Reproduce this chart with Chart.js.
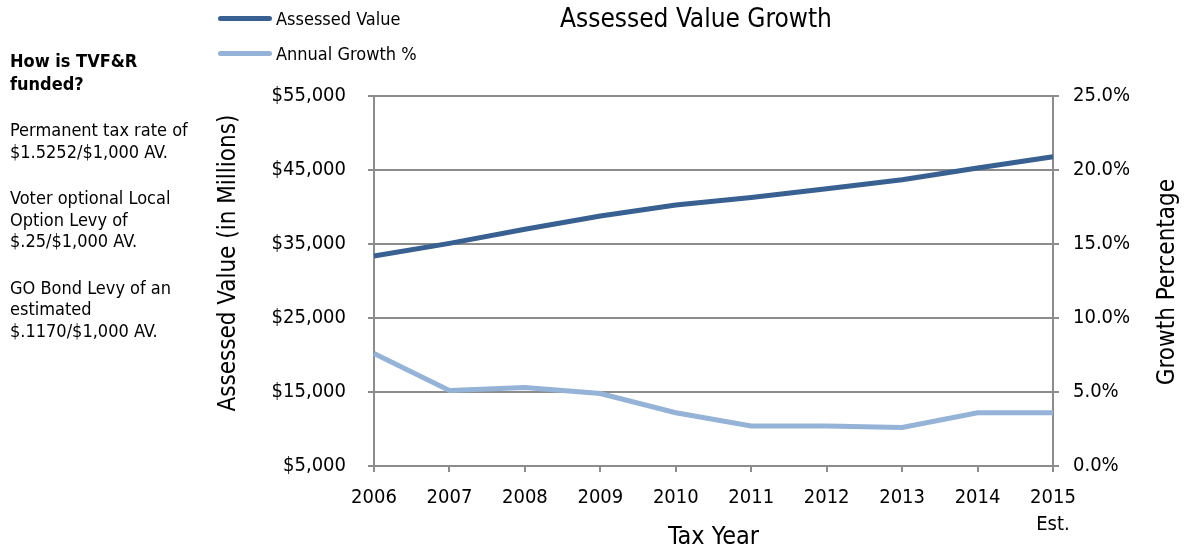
<!DOCTYPE html>
<html>
<head>
<meta charset="utf-8">
<script src="https://cdn.jsdelivr.net/npm/chart.js@4/dist/chart.umd.min.js"></script>
<style>
  body { margin: 0; background: #fff; }
  #wrap { position: relative; width: 1187px; height: 550px; font-family: "DejaVu Sans Condensed", "DejaVu Sans", sans-serif; color: #000; }
  #chart { position: absolute; left: 0; top: 0; }
  #notes { position: absolute; left: 10px; top: 50px; width: 200px; font-size: 18px; line-height: 21.5px; }
  #notes h4 { margin: 0 0 24px 0; font-size: 18px; font-weight: bold; line-height: 22.5px; }
  #notes p { margin: 0 0 25px 0; }
  .legend-item { position: absolute; left: 218px; font-size: 18px; display: flex; align-items: center; white-space: nowrap; }
  .legend-item span.swatch { display: inline-block; width: 54px; height: 5px; border-radius: 3px; margin-right: 4px; }
</style>
</head>
<body>
<div id="wrap">
  <canvas id="chart" width="1187" height="550"></canvas>
  <div id="notes">
    <h4>How is TVF&amp;R<br>funded?</h4>
    <p>Permanent tax rate of<br>$1.5252/$1,000 AV.</p>
    <p>Voter optional Local<br>Option Levy of<br>$.25/$1,000 AV.</p>
    <p>GO Bond Levy of an<br>estimated<br>$.1170/$1,000 AV.</p>
  </div>
  <div id="legend"></div>
</div>
<script>
const FONT = '"DejaVu Sans Condensed", "DejaVu Sans", sans-serif';

// Tax years on the x axis (the last one is an estimate)
const taxYears = ['2006', '2007', '2008', '2009', '2010', '2011', '2012', '2013', '2014', ['2015', 'Est.']];

// Assessed value, millions of dollars
const assessedValue = [33400, 35100, 37000, 38800, 40300, 41300, 42500, 43700, 45300, 46800];

// Annual growth, percent
const annualGrowth = [7.6, 5.1, 5.3, 4.9, 3.6, 2.7, 2.7, 2.6, 3.6, 3.6];

const seriesNames = ['Assessed Value', 'Annual Growth %'];
const seriesColors = ['#386192', '#95b3d7'];
const axisTitles = ['Assessed Value (in Millions)', 'Growth Percentage'];

const gridColor = '#8c8c8c';

// both y titles read bottom-to-top, drawn by hand so they sit where the original has them
const sideTitlesPlugin = {
    id: 'sideTitles',
    afterDraw(chart) {
        const area = chart.chartArea;
        const mid = (area.top + area.bottom) / 2;
        const c = chart.ctx;
        const spots = [
            { x: chart.scales.y.left + 24, y: mid - 18, text: axisTitles[0] },
            { x: chart.scales.y1.right - 19, y: mid + 1, text: axisTitles[1] }
        ];
        spots.forEach(s => {
            c.save();
            c.translate(s.x, s.y);
            c.rotate(-Math.PI / 2);
            c.font = '24px ' + FONT;
            c.fillStyle = '#000';
            c.textAlign = 'center';
            c.textBaseline = 'middle';
            c.fillText(s.text, 0, 0);
            c.restore();
        });
    }
};

const ctx = document.getElementById('chart').getContext('2d');
const chart = new Chart(ctx, {
    type: 'line',
    data: {
        labels: taxYears,
        datasets: [
            {
                label: seriesNames[0],
                data: assessedValue,
                yAxisID: 'y',
                borderColor: seriesColors[0],
                backgroundColor: seriesColors[0],
                borderWidth: 5,
                pointRadius: 0,
                tension: 0
            },
            {
                label: seriesNames[1],
                data: annualGrowth,
                yAxisID: 'y1',
                borderColor: seriesColors[1],
                backgroundColor: seriesColors[1],
                borderWidth: 5,
                pointRadius: 0,
                tension: 0
            }
        ]
    },
    options: {
        responsive: false,
        animation: false,
        layout: {
            padding: { left: 205, right: 0, top: 0, bottom: 0 }
        },
        scales: {
            x: {
                offset: false,
                afterFit(scale) { scale.height = 84; },
                grid: {
                    drawOnChartArea: false,
                    drawTicks: true,
                    tickLength: 6,
                    color: gridColor,
                    lineWidth: 2
                },
                border: { display: true, color: gridColor, width: 2 },
                ticks: {
                    color: '#000',
                    padding: 12,
                    maxRotation: 0,
                    autoSkip: false,
                    font: { family: FONT, size: 20, lineHeight: 1.35 }
                },
                title: {
                    display: true,
                    text: 'Tax Year',
                    color: '#000',
                    padding: { top: 0, bottom: 0 },
                    font: { family: FONT, size: 25, lineHeight: 1 }
                }
            },
            y: {
                position: 'left',
                min: 5000,
                max: 55000,
                afterFit(scale) { scale.width = 169; },
                grid: {
                    drawOnChartArea: true,
                    drawTicks: true,
                    tickLength: 6,
                    color: gridColor,
                    lineWidth: 2
                },
                border: { display: true, color: gridColor, width: 2 },
                ticks: {
                    stepSize: 10000,
                    color: '#000',
                    padding: 22,
                    font: { family: FONT, size: 20 },
                    callback: v => '$' + v.toLocaleString('en-US')
                }
            },
            y1: {
                position: 'right',
                min: 0,
                max: 25,
                afterFit(scale) { scale.width = 134; },
                grid: {
                    drawOnChartArea: false,
                    drawTicks: true,
                    tickLength: 6,
                    color: gridColor,
                    lineWidth: 2
                },
                border: { display: true, color: gridColor, width: 2 },
                ticks: {
                    stepSize: 5,
                    color: '#000',
                    padding: 14,
                    font: { family: FONT, size: 20 },
                    callback: v => v.toFixed(1) + '%'
                }
            }
        },
        plugins: {
            legend: { display: false },
            tooltip: { enabled: false },
            title: {
                display: true,
                text: 'Assessed Value Growth',
                color: '#000',
                padding: { top: 5, bottom: 60 },
                font: { family: FONT, size: 26, weight: 'normal' }
            }
        }
    },
    plugins: [sideTitlesPlugin]
});

// legend built from the datasets, stacked at the top left
const legendEl = document.getElementById('legend');
const legendY = [18, 53];
chart.data.datasets.forEach((ds, i) => {
    const item = document.createElement('div');
    item.className = 'legend-item';
    item.style.top = (legendY[i] - 11) + 'px';
    item.style.height = '22px';
    item.innerHTML = '<span class="swatch" style="background:' + ds.borderColor + '"></span>' + ds.label;
    legendEl.appendChild(item);
});
</script>
</body>
</html>
